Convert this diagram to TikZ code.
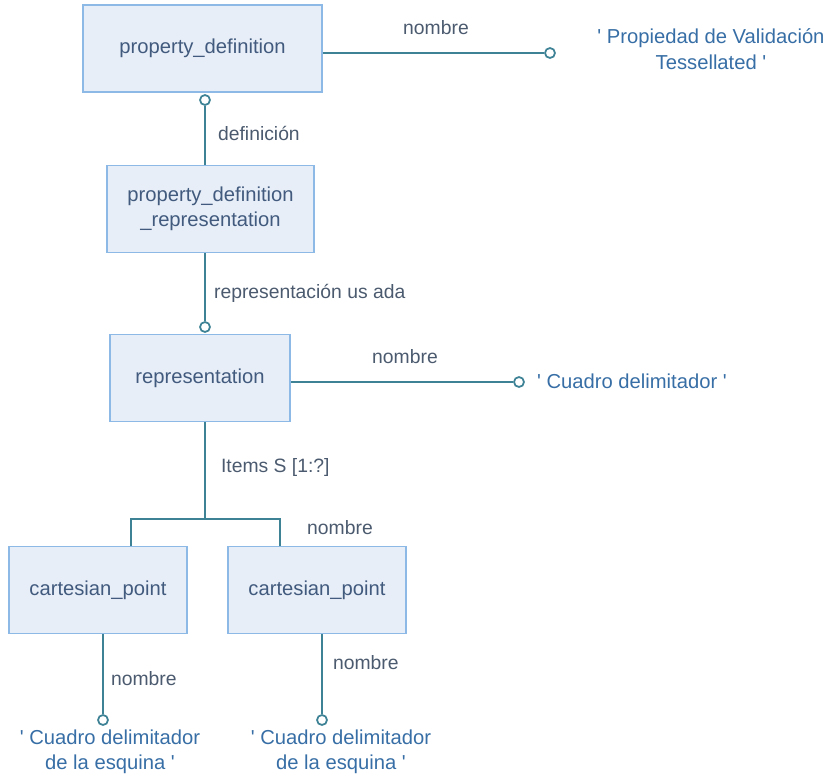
\documentclass[tikz,border=0pt]{standalone}
\usepackage{fontspec}
\setmainfont{Liberation Sans}[Ligatures=TeXOff]
\usetikzlibrary{calc}
\definecolor{lnk}{RGB}{62,130,150}
\definecolor{entb}{RGB}{140,185,230}
\definecolor{entf}{RGB}{231,238,248}
\definecolor{entt}{RGB}{65,90,125}
\definecolor{lblc}{RGB}{75,90,110}
\definecolor{valc}{RGB}{55,110,165}
\tikzset{ent/.style={draw=entb,fill=entf,line width=1pt,text=entt,minimum height=1.74cm,align=center,font=\fontsize{11.5}{14.5}\selectfont},
opn/.style={circle,draw=lnk,fill=white,line width=1pt,inner sep=0pt,minimum size=0.2cm},
lbl/.style={text=lblc,inner sep=1pt,font=\fontsize{11}{13}\selectfont},
val/.style={text=valc,align=center,inner sep=1pt,font=\fontsize{11.5}{14.5}\selectfont}}

\begin{document}
\begin{tikzpicture}[x=0.02cm,y=-0.02cm]
    \useasboundingbox (0,0) rectangle (833,778);
    \node[ent,minimum width=4.78cm] (pd) at (202.5,48.5) {property\_definition};
    \node[ent,minimum width=4.14cm] (pdr) at (210.5,209) {property\_definition\\\_representation};
    \node[ent,minimum width=3.6cm] (rep) at (200,378) {representation};
    \node[ent,minimum width=3.56cm] (cp1) at (98,590) {cartesian\_point};
    \node[ent,minimum width=3.56cm] (cp2) at (317,590) {cartesian\_point};
    \node[opn] (c1) at (550,53) {};
    \node[opn] (c2) at (205,100) {};
    \node[opn] (c3) at (205,327) {};
    \node[opn] (c4) at (519,382) {};
    \node[opn] (c5) at (103,720) {};
    \node[opn] (c6) at (322,720) {};
    \coordinate (j) at (205,519);
    \coordinate (j1) at (131,519);
    \coordinate (j2) at (280,519);
    \node[val] (v1) at (711,49) {' Propiedad de Validación\\Tessellated '};
    \node[val,anchor=west] (v2) at (535,381) {' Cuadro delimitador '};
    \node[val] (v3) at (110,752) {' Cuadro delimitador\\de la esquina '};
    \node[val] (v4) at (341,752) {' Cuadro delimitador\\de la esquina '};
    \node[lbl] (l1) at (436,28) {nombre};
    \node[lbl,anchor=west] (l2) at (216,133) {definición};
    \node[lbl,anchor=west] (l3) at (212,293) {representación us ada};
    \node[lbl] (l4) at (405,357) {nombre};
    \node[lbl,anchor=west] (l5) at (219,467) {Items S [1:?]};
    \node[lbl] (l6) at (340,528) {nombre};
    \node[lbl,anchor=west] (l7) at (109,679) {nombre};
    \node[lbl,anchor=west] (l8) at (331,663) {nombre};
    \draw[lnk,line width=1pt] (pd.east |- c1) -- (c1)
    (c2) -- (c2 |- pdr.north)
    (c3 |- pdr.south) -- (c3)
    (rep.east |- c4) -- (c4)
    (j |- rep.south) -- (j)
    (j1 |- cp1.north) -- (j1) -- (j2) -- (j2 |- cp2.north)
    (c5 |- cp1.south) -- (c5)
    (c6 |- cp2.south) -- (c6)
    ;
\end{tikzpicture}
\end{document}
